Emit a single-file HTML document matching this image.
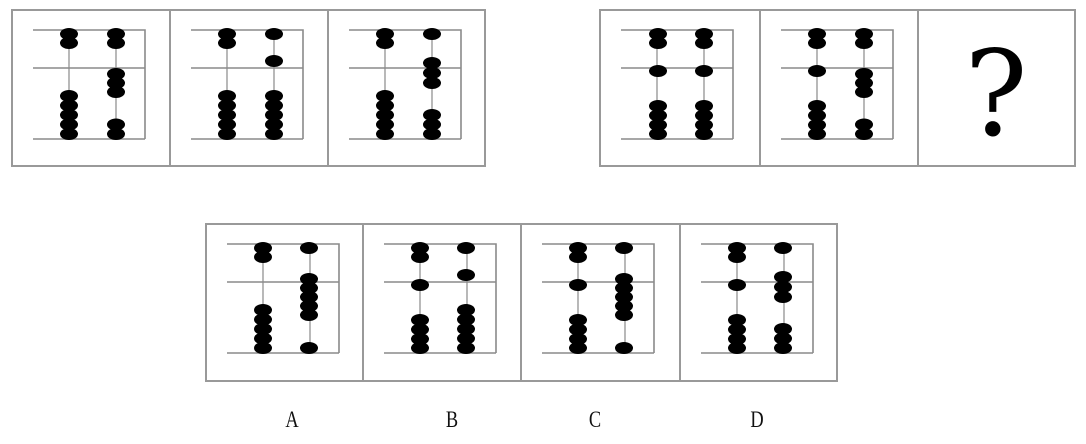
<!DOCTYPE html>
<html><head><meta charset="utf-8"><style>
html,body{margin:0;padding:0;background:#fff;}
svg{display:block;}
</style></head><body>
<svg width="1086" height="444" viewBox="0 0 1086 444" xmlns="http://www.w3.org/2000/svg">
<defs>
<ellipse id="b" cx="0" cy="0" rx="9" ry="6" fill="#000"/>
<g id="fr" fill="none" stroke="#8a8a8a" stroke-width="1.6">
  <path d="M21 20 H133 V129 M21 58 H133 M21 129 H133"/>
  <path d="M57 20 V129 M104 20 V129" stroke-width="1.2"/>
</g>
<g id="U2"><use href="#b" y="24"/><use href="#b" y="33"/></g>
<g id="U1"><use href="#b" y="24"/></g>
<g id="L5"><use href="#b" y="86"/><use href="#b" y="95.5"/><use href="#b" y="105"/><use href="#b" y="114.5"/><use href="#b" y="124"/></g>
<g id="L4"><use href="#b" y="96"/><use href="#b" y="105.5"/><use href="#b" y="115"/><use href="#b" y="124"/></g>
<g id="L3"><use href="#b" y="105"/><use href="#b" y="114.5"/><use href="#b" y="124"/></g>
<g id="L2"><use href="#b" y="114.5"/><use href="#b" y="124"/></g>
<g id="L1"><use href="#b" y="124"/></g>
<g id="M1"><use href="#b" y="61"/></g>
<g id="M1h"><use href="#b" y="51"/></g>
<g id="M3"><use href="#b" y="64"/><use href="#b" y="73"/><use href="#b" y="82"/></g>
<g id="M3h"><use href="#b" y="53"/><use href="#b" y="63"/><use href="#b" y="73"/></g>
<g id="M5"><use href="#b" y="55"/><use href="#b" y="64"/><use href="#b" y="73"/><use href="#b" y="82"/><use href="#b" y="91"/></g>
</defs>

<g fill="none" stroke="#999" stroke-width="2">
  <rect x="12" y="10" width="473" height="156"/>
  <line x1="170" y1="10" x2="170" y2="166"/>
  <line x1="328" y1="10" x2="328" y2="166"/>
  <rect x="600" y="10" width="475" height="156"/>
  <line x1="760" y1="10" x2="760" y2="166"/>
  <line x1="918" y1="10" x2="918" y2="166"/>
  <rect x="206" y="224" width="631" height="157"/>
  <line x1="363" y1="224" x2="363" y2="381"/>
  <line x1="521" y1="224" x2="521" y2="381"/>
  <line x1="680" y1="224" x2="680" y2="381"/>
</g>

<g transform="translate(12,10)"><use href="#fr"/>
  <g transform="translate(57,0)"><use href="#U2"/><use href="#L5"/></g>
  <g transform="translate(104,0)"><use href="#U2"/><use href="#M3"/><use href="#L2"/></g></g>
<g transform="translate(170,10)"><use href="#fr"/>
  <g transform="translate(57,0)"><use href="#U2"/><use href="#L5"/></g>
  <g transform="translate(104,0)"><use href="#U1"/><use href="#M1h"/><use href="#L5"/></g></g>
<g transform="translate(328,10)"><use href="#fr"/>
  <g transform="translate(57,0)"><use href="#U2"/><use href="#L5"/></g>
  <g transform="translate(104,0)"><use href="#U1"/><use href="#M3h"/><use href="#L3"/></g></g>

<g transform="translate(600,10)"><use href="#fr"/>
  <g transform="translate(58,0)"><use href="#U2"/><use href="#M1"/><use href="#L4"/></g>
  <g transform="translate(104,0)"><use href="#U2"/><use href="#M1"/><use href="#L4"/></g></g>
<g transform="translate(760,10)"><use href="#fr"/>
  <g transform="translate(57,0)"><use href="#U2"/><use href="#M1"/><use href="#L4"/></g>
  <g transform="translate(104,0)"><use href="#U2"/><use href="#M3"/><use href="#L2"/></g></g>
<text x="996" y="135" text-anchor="middle" font-family="DejaVu Serif, serif" font-size="118" fill="#000">?</text>

<g transform="translate(206,224)"><use href="#fr"/>
  <g transform="translate(57,0)"><use href="#U2"/><use href="#L5"/></g>
  <g transform="translate(103,0)"><use href="#U1"/><use href="#M5"/><use href="#L1"/></g></g>
<g transform="translate(363,224)"><use href="#fr"/>
  <g transform="translate(57,0)"><use href="#U2"/><use href="#M1"/><use href="#L4"/></g>
  <g transform="translate(103,0)"><use href="#U1"/><use href="#M1h"/><use href="#L5"/></g></g>
<g transform="translate(521,224)"><use href="#fr"/>
  <g transform="translate(57,0)"><use href="#U2"/><use href="#M1"/><use href="#L4"/></g>
  <g transform="translate(103,0)"><use href="#U1"/><use href="#M5"/><use href="#L1"/></g></g>
<g transform="translate(680,224)"><use href="#fr"/>
  <g transform="translate(57,0)"><use href="#U2"/><use href="#M1"/><use href="#L4"/></g>
  <g transform="translate(103,0)"><use href="#U1"/><use href="#M3h"/><use href="#L3"/></g></g>

<g font-family="Liberation Serif, serif" font-size="23" fill="#111" text-anchor="middle">
  <text transform="translate(292,427) scale(0.8,1)">A</text>
  <text transform="translate(452,427) scale(0.8,1)">B</text>
  <text transform="translate(595,427) scale(0.8,1)">C</text>
  <text transform="translate(757,427) scale(0.8,1)">D</text>
</g>
</svg>
</body></html>
